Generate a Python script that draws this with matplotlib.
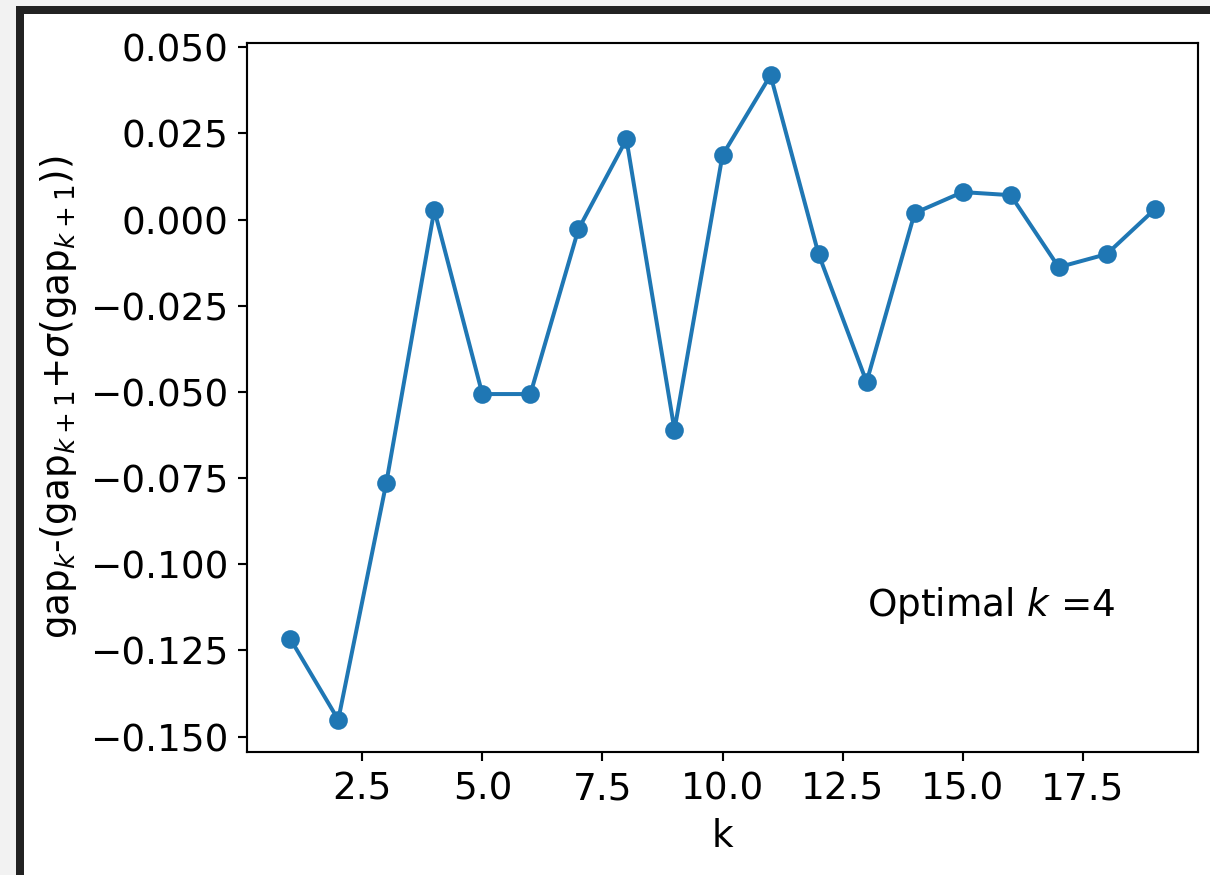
import numpy as np
import matplotlib
matplotlib.use("Agg")
import matplotlib.pyplot as plt
from matplotlib.patches import Rectangle

plt.rcParams['font.size'] = 14

# gap statistic difference for each number of clusters
k_values = list(range(1, 20))
gap_diff = [-0.1216, -0.1451, -0.0764, 0.0028, -0.0506, -0.0506, -0.0028,
            0.0233, -0.0610, 0.0187, 0.0419, -0.0100, -0.0471, 0.0019,
            0.0080, 0.0071, -0.0138, -0.0100, 0.0030]
optimal_k = 4

W, H = 1210, 875
fig = plt.figure(figsize=(W / 192, H / 192), dpi=192, facecolor='white')

# window frame around the plot
frame = [
    ((0, 0), 16 / W, 1, '#f2f2f2'),
    ((0, 1 - 6 / H), 1, 6 / H, '#f2f2f2'),
    ((16 / W, 0), 8 / W, 1 - 6 / H, '#222222'),
    ((16 / W, 1 - 14 / H), 1 - 16 / W, 8 / H, '#222222'),
]
for xy, w, h, c in frame:
    fig.patches.append(Rectangle(xy, w, h, transform=fig.transFigure,
                                 facecolor=c, edgecolor='none', zorder=-1))

ax = fig.add_axes([247 / W, 1 - 752 / H, (1198 - 247) / W, (752 - 43) / H])
ax.plot(k_values, gap_diff, 'o-', color='#1f77b4')
ax.text(13, -0.115, 'Optimal $k$ =%d' % optimal_k)
ax.set_xlabel('k')
ax.set_ylabel(r'gap$_k$-(gap$_{k+1}$+$\sigma$(gap$_{k+1}$))')

fig.savefig('out.png', dpi=192, facecolor=fig.get_facecolor())
